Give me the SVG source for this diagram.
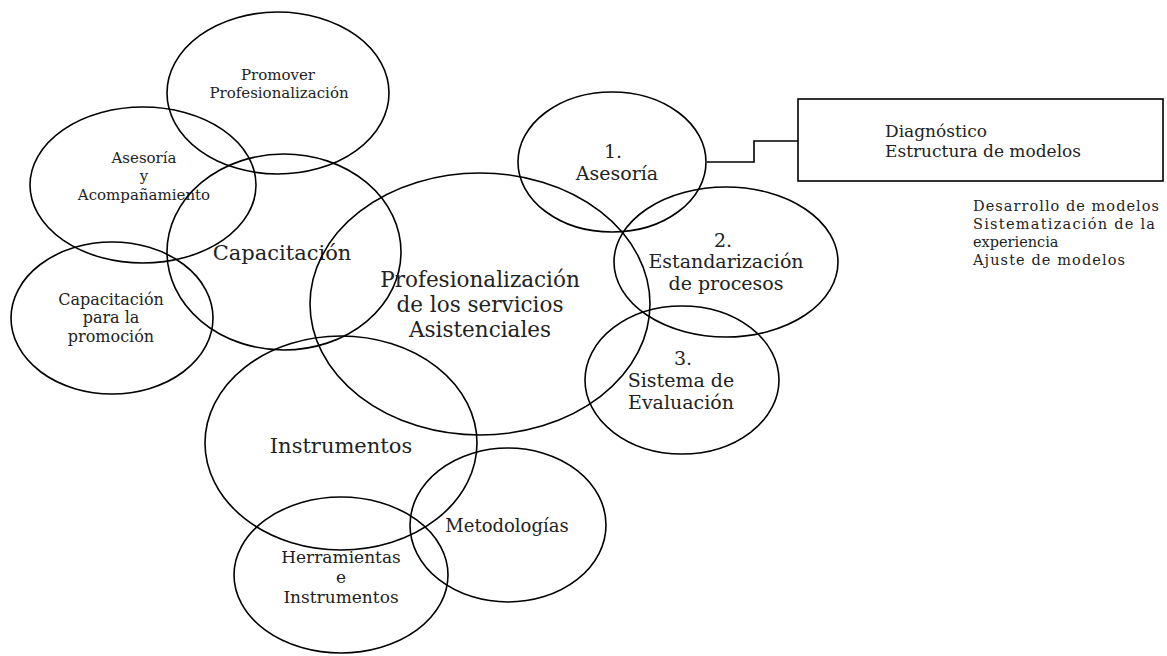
<svg xmlns="http://www.w3.org/2000/svg" width="1167" height="656" viewBox="0 0 1167 656">
<style>
.n{fill:none;stroke:#000;stroke-width:1.6}
text{font-family:"DejaVu Serif","Liberation Serif",serif;fill:#222;text-anchor:middle}
.l{text-anchor:start}
</style>
<rect width="1167" height="656" fill="#fff"/>
<g id="connectors">
<polyline class="n" points="707,162 754,162 754,141 798,141"/>
</g>
<g id="promover">
<ellipse class="n" cx="278" cy="93" rx="111" ry="81"/>
<text x="278" y="80" font-size="15">Promover</text>
<text x="279" y="98" font-size="15">Profesionalización</text>
</g>
<g id="asesoria-acomp">
<ellipse class="n" cx="143" cy="185" rx="113" ry="78"/>
<text x="144" y="163" font-size="15">Asesoría</text>
<text x="144" y="181" font-size="15">y</text>
<text x="144" y="200" font-size="15">Acompañamiento</text>
</g>
<g id="capacitacion">
<ellipse class="n" cx="284" cy="252" rx="117" ry="98"/>
<text x="282" y="260" font-size="21">Capacitación</text>
</g>
<g id="capacitacion-promocion">
<ellipse class="n" cx="112" cy="318" rx="101" ry="76"/>
<text x="111" y="305" font-size="16">Capacitación</text>
<text x="111" y="323" font-size="16">para la</text>
<text x="111" y="342" font-size="16">promoción</text>
</g>
<g id="profesionalizacion">
<ellipse class="n" cx="480" cy="304" rx="170" ry="131"/>
<text x="480" y="287" font-size="21.5">Profesionalización</text>
<text x="480" y="312" font-size="21.5">de los servicios</text>
<text x="480" y="337" font-size="21.5">Asistenciales</text>
</g>
<g id="instrumentos">
<ellipse class="n" cx="341" cy="443" rx="136" ry="107"/>
<text x="341" y="453" font-size="21">Instrumentos</text>
</g>
<g id="metodologias">
<ellipse class="n" cx="508" cy="525" rx="98" ry="77"/>
<text x="507" y="532" font-size="18">Metodologías</text>
</g>
<g id="herramientas">
<ellipse class="n" cx="341" cy="575" rx="107" ry="78"/>
<text x="341" y="563" font-size="17">Herramientas</text>
<text x="341" y="583" font-size="17">e</text>
<text x="341" y="603" font-size="17">Instrumentos</text>
</g>
<g id="asesoria">
<ellipse class="n" cx="612" cy="162" rx="94" ry="70"/>
<text x="613" y="158" font-size="19">1.</text>
<text x="617" y="180" font-size="19">Asesoría</text>
</g>
<g id="estandarizacion">
<ellipse class="n" cx="726" cy="262" rx="112" ry="75"/>
<text x="723" y="247" font-size="19">2.</text>
<text x="726" y="268" font-size="19">Estandarización</text>
<text x="726" y="290" font-size="19">de procesos</text>
</g>
<g id="sistema">
<ellipse class="n" cx="682" cy="380" rx="97" ry="74"/>
<text x="683" y="365" font-size="19">3.</text>
<text x="681" y="387" font-size="19">Sistema de</text>
<text x="681" y="409" font-size="19">Evaluación</text>
</g>
<g id="diagnostico">
<rect class="n" x="798" y="99" width="365" height="82"/>
<text class="l" x="885" y="137" font-size="17">Diagnóstico</text>
<text class="l" x="885" y="157" font-size="17">Estructura de modelos</text>
</g>
<g id="desarrollo">
<text class="l" x="973" y="211" font-size="14.5" textLength="186" lengthAdjust="spacing">Desarrollo de modelos</text>
<text class="l" x="973" y="229" font-size="14.5" textLength="182" lengthAdjust="spacing">Sistematización de la</text>
<text class="l" x="973" y="247" font-size="14.5">experiencia</text>
<text class="l" x="973" y="265" font-size="14.5" textLength="152" lengthAdjust="spacing">Ajuste de modelos</text>
</g>
</svg>
